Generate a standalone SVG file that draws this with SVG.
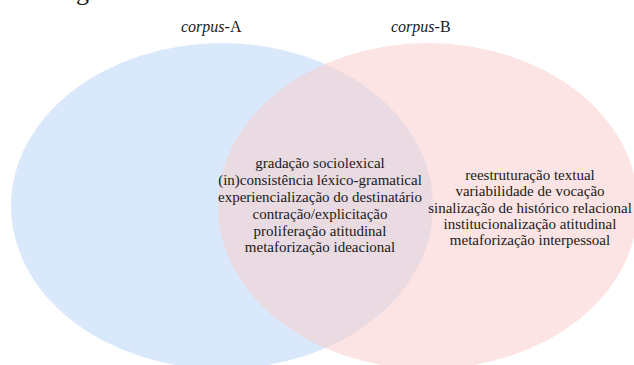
<svg xmlns="http://www.w3.org/2000/svg" width="634" height="365" viewBox="0 0 634 365">
<style>
text{font-family:'Liberation Serif','Times New Roman',serif;fill:#1a1a1a}
.title{font-size:16px}
.body{font-size:15px;text-anchor:middle}
</style>
<rect width="634" height="365" fill="#ffffff"/>
<text x="76" y="0" style="font-size:26px">g</text>
<g id="setA">
<ellipse cx="222" cy="206" rx="211" ry="163" fill="#dae8fc"/>
<text class="title" x="181" y="32"><tspan font-style="italic">corpus</tspan>-A</text>
</g>
<g id="setB">
<ellipse cx="428" cy="206" rx="210" ry="163" fill="#f8cecc" fill-opacity="0.55"/>
<text class="title" x="391" y="32"><tspan font-style="italic">corpus</tspan>-B</text>
</g>
<g id="connectors"/>
<g id="intersection">
<text class="body" x="320" y="168">gradação sociolexical</text>
<text class="body" x="320" y="185">(in)consistência léxico-gramatical</text>
<text class="body" x="320" y="202">experiencialização do destinatário</text>
<text class="body" x="320" y="219">contração/explicitação</text>
<text class="body" x="320" y="236">proliferação atitudinal</text>
<text class="body" x="320" y="252">metaforização ideacional</text>
</g>
<g id="onlyB">
<text class="body" x="530" y="180">reestruturação textual</text>
<text class="body" x="530" y="196">variabilidade de vocação</text>
<text class="body" x="530" y="213">sinalização de histórico relacional</text>
<text class="body" x="530" y="229">institucionalização atitudinal</text>
<text class="body" x="530" y="245">metaforização interpessoal</text>
</g>
</svg>
